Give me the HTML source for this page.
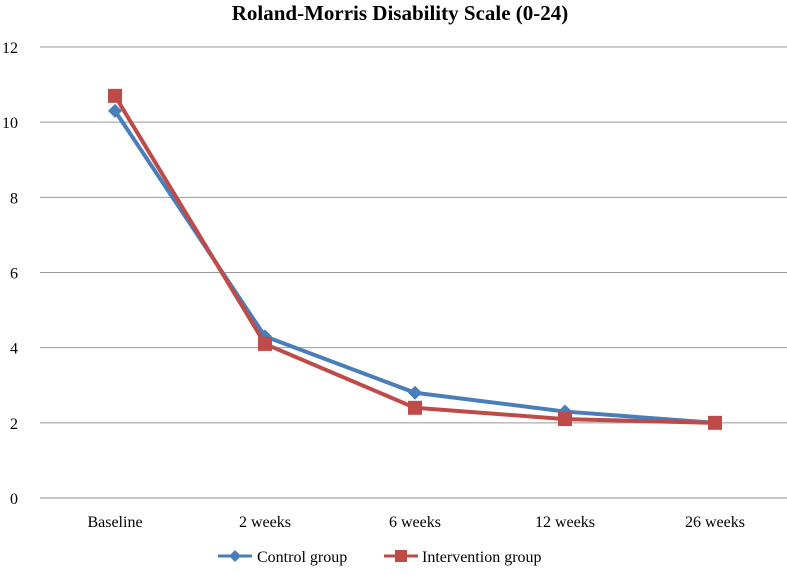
<!DOCTYPE html>
<html><head><meta charset="utf-8"><style>
body{margin:0;background:#fff;}
svg text{font-family:"Liberation Serif",serif;}
</style></head><body>
<svg id="chart" width="787" height="570">
<text x="400" y="20" text-anchor="middle" font-size="21" font-weight="bold" fill="#000">Roland-Morris Disability Scale (0-24)</text>
<g id="grid"></g><g id="series"></g>
<g>
<g>
<line x1="218" y1="556" x2="252" y2="556" stroke="#4a7ebb" stroke-width="3"/>
<path d="M235 550 L241 556 L235 562 L229 556 Z" fill="#4a7ebb"/>
<text x="257" y="562" font-size="16">Control group</text></g>
<g>
<line x1="384" y1="556" x2="418" y2="556" stroke="#be4b48" stroke-width="3"/>
<rect x="395" y="550" width="12" height="12" fill="#be4b48"/>
<text x="422" y="562" font-size="16">Intervention group</text></g>
</g>
</svg>
<script>
const categories=["Baseline","2 weeks","6 weeks","12 weeks","26 weeks"];
const controlValues=[10.3,4.3,2.8,2.3,2.0];
const interventionValues=[10.7,4.1,2.4,2.1,2.0];
const yTicks=[0,2,4,6,8,10,12];
const NS="http://www.w3.org/2000/svg";
const x0=40,x1=790,yTop=47,yBot=498;
const xScale=i=>x0+(x1-x0)/categories.length*(i+0.5);
const yScale=v=>yBot-(yBot-yTop)*v/12;
const grid=document.getElementById('grid'),ser=document.getElementById('series');
function mk(t,a,p){const e=document.createElementNS(NS,t);for(const k in a)e.setAttribute(k,a[k]);p.appendChild(e);return e;}
yTicks.forEach(v=>{
 const l=mk('line',{x1:x0,x2:x1,y1:yScale(v),y2:yScale(v),stroke:v===0?'#888':'#999','stroke-width':1},grid);
 
 
 const t=mk('text',{x:18,y:yScale(v)+6,'text-anchor':'end','font-size':16},grid);t.textContent=v;
 
 
});
categories.forEach((c,i)=>{
 const t=mk('text',{x:xScale(i),y:527,'text-anchor':'middle','font-size':16},grid);t.textContent=c;
 
 
});
function draw(vals,color,shape,name){
 const p=mk('polyline',{points:vals.map((v,i)=>xScale(i)+','+yScale(v)).join(' '),fill:'none',stroke:color,'stroke-width':4,'stroke-linejoin':'round'},ser);
 
 
 vals.forEach((v,i)=>{
  const x=xScale(i),y=yScale(v);let m;
  if(shape==='d')m=mk('path',{d:`M${x} ${y-7}L${x+7} ${y}L${x} ${y+7}L${x-7} ${y}Z`,fill:color},ser);
  else m=mk('rect',{x:x-7,y:y-7,width:14,height:14,fill:color},ser);
  
  
 });
}
draw(controlValues,'#4a7ebb','d','control');
draw(interventionValues,'#be4b48','s','intervention');
</script>
</body></html>
